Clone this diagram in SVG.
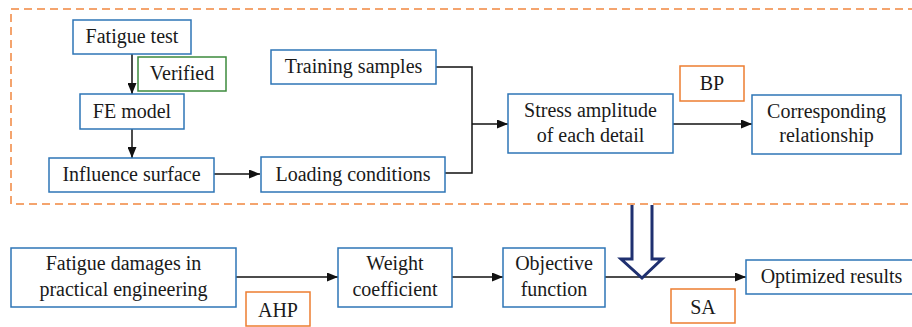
<svg xmlns="http://www.w3.org/2000/svg" width="912" height="327" viewBox="0 0 912 327">
<defs>
<marker id="ah" markerUnits="userSpaceOnUse" markerWidth="11" markerHeight="9" refX="11" refY="4.5" orient="auto">
<path d="M0,0 L11,4.5 L0,9 z" fill="#111"/>
</marker>
<style>
.b{fill:#fff;stroke:#2e75b6;stroke-width:1.5}
.o{fill:#fff;stroke:#ed7d31;stroke-width:1.5}
.g{fill:#fff;stroke:#3d8b3d;stroke-width:1.5}
.c{fill:none;stroke:#111;stroke-width:1.5}
</style>
</defs>
<rect x="11" y="9" width="910" height="195" fill="none" stroke="#f4a46e" stroke-width="2" stroke-dasharray="8,5"/>
<g id="connectors">
<line class="c" x1="132" y1="54" x2="132" y2="94" marker-end="url(#ah)"/>
<line class="c" x1="132" y1="129" x2="132" y2="158" marker-end="url(#ah)"/>
<line class="c" x1="214" y1="174" x2="260" y2="174" marker-end="url(#ah)"/>
<polyline class="c" points="436,67 472,67 472,173 445,173"/>
<line class="c" x1="472" y1="124" x2="508" y2="124" marker-end="url(#ah)"/>
<line class="c" x1="673" y1="124" x2="752" y2="124" marker-end="url(#ah)"/>
<line class="c" x1="236" y1="277" x2="338" y2="277" marker-end="url(#ah)"/>
<line class="c" x1="452" y1="277" x2="503" y2="277" marker-end="url(#ah)"/>
<line class="c" x1="605" y1="277" x2="746" y2="277" marker-end="url(#ah)"/>
</g>
<g id="bigarrow">
<path d="M632,205 L632,259 L621,259 L642,278 L662,259 L652,259 L652,205" fill="#fff" stroke="#1f3070" stroke-width="3" stroke-linejoin="miter"/>
</g>
<g id="nodes" font-size="20" fill="#1a1a1a" text-anchor="middle">
<g id="fatigue-test"><rect class="b" x="73" y="20" width="118" height="34"/><text font-family="Liberation Serif" x="132" y="43">Fatigue test</text></g>
<g id="verified"><rect class="g" x="138" y="57" width="88" height="34"/><text font-family="Liberation Serif" x="182" y="80">Verified</text></g>
<g id="fe-model"><rect class="b" x="80" y="94" width="104" height="35"/><text font-family="Liberation Serif" x="132" y="118">FE model</text></g>
<g id="influence-surface"><rect class="b" x="49" y="158" width="165" height="34"/><text font-family="Liberation Serif" x="131.5" y="181">Influence surface</text></g>
<g id="training-samples"><rect class="b" x="271" y="50" width="165" height="34"/><text font-family="Liberation Serif" x="353.5" y="73">Training samples</text></g>
<g id="loading-conditions"><rect class="b" x="261" y="157" width="184" height="35"/><text font-family="Liberation Serif" x="353" y="180.5">Loading conditions</text></g>
<g id="stress-amplitude"><rect class="b" x="508" y="94" width="165" height="59"/><text font-family="Liberation Serif" x="590.5" y="117">Stress amplitude</text><text font-family="Liberation Serif" x="590.5" y="142">of each detail</text></g>
<g id="bp"><rect class="o" x="680" y="66" width="64" height="35"/><text font-family="Liberation Serif" x="712" y="89.5">BP</text></g>
<g id="corresponding"><rect class="b" x="752" y="95" width="149" height="59"/><text font-family="Liberation Serif" x="826.5" y="118">Corresponding</text><text font-family="Liberation Serif" x="826.5" y="142">relationship</text></g>
<g id="fatigue-damages"><rect class="b" x="11" y="248" width="225" height="59"/><text font-family="Liberation Serif" x="123.5" y="270">Fatigue damages in</text><text font-family="Liberation Serif" x="123.5" y="296">practical engineering</text></g>
<g id="ahp"><rect class="o" x="246" y="292" width="64" height="34"/><text font-family="Liberation Serif" x="278" y="316.5">AHP</text></g>
<g id="weight-coefficient"><rect class="b" x="338" y="248" width="114" height="59"/><text font-family="Liberation Serif" x="395" y="270">Weight</text><text font-family="Liberation Serif" x="395" y="296">coefficient</text></g>
<g id="objective-function"><rect class="b" x="503" y="248" width="102" height="59"/><text font-family="Liberation Serif" x="554" y="270">Objective</text><text font-family="Liberation Serif" x="554" y="296">function</text></g>
<g id="sa"><rect class="o" x="671" y="289" width="64" height="34"/><text font-family="Liberation Serif" x="703" y="313.5">SA</text></g>
<g id="optimized-results"><rect class="b" x="746" y="260" width="172" height="34"/><text font-family="Liberation Serif" x="831.5" y="283">Optimized results</text></g>
</g>
</svg>
